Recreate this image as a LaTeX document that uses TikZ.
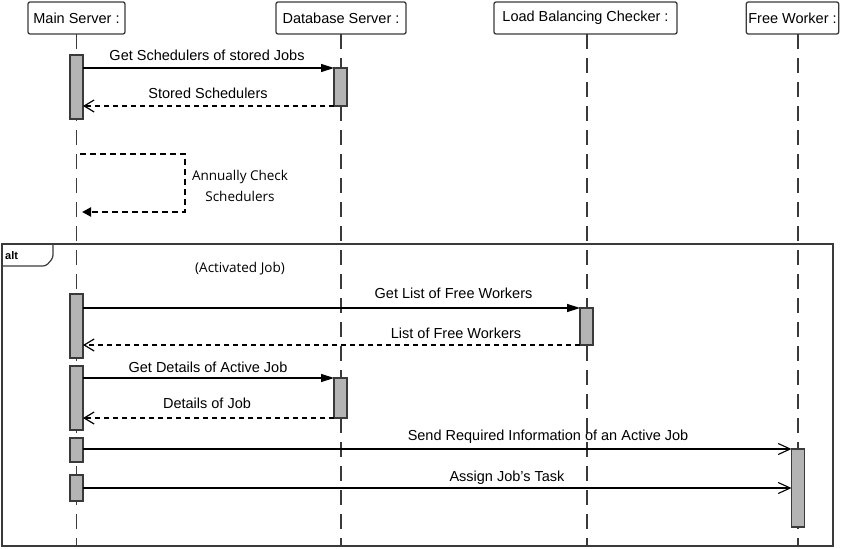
\documentclass[tikz,border=0pt]{standalone}
\usepackage{fontspec}
\setmainfont{Liberation Sans}
\newfontfamily\notefont{Open Sans}
\usepackage{tikz}
\usetikzlibrary{arrows.meta, calc}
\definecolor{boxgray}{HTML}{3A3A3A}
\definecolor{actfill}{HTML}{B4B4B4}

\begin{document}
\begin{tikzpicture}[x=1pt, y=-1pt,
                head/.style={draw=boxgray, line width=1.3pt, rounded corners=2pt,
                  minimum height=32pt, inner sep=2pt, outer sep=0pt, fill=white,
                  font=\fontsize{14.5}{16}\selectfont},
                lifeline/.style={draw=boxgray, line width=1.8pt, dash pattern=on 15pt off 9pt},
                act/.style={draw=boxgray, line width=1.2pt, fill=actfill,
                  minimum width=13pt, inner sep=0pt, outer sep=0pt},
                sync/.style={draw=black, line width=1.4pt, -{Triangle[length=13pt,width=8pt]}},
                async/.style={draw=black, line width=1.1pt, -{Straight Barb[length=12pt,width=11pt]}},
                reply/.style={draw=black, line width=1.2pt, dash pattern=on 5pt off 4pt,
                  -{Straight Barb[length=10pt,width=12pt]}},
                selfmsg/.style={draw=black, line width=2pt, dash pattern=on 6pt off 4pt,
                  -{Triangle[length=9pt,width=9pt]}},
                msg/.style={anchor=base, inner sep=0pt, font=\fontsize{14.5}{16}\selectfont},
                note/.style={inner sep=0pt, align=center, font=\notefont\fontsize{13.5}{21}\selectfont},
                frame/.style={draw=boxgray, line width=1.8pt},
              ]
  \useasboundingbox (0,0) rectangle (850,548);
  \coordinate (bot) at (0,546);

  % lifeline heads
  \node [head, minimum width=97pt] (ms) at (76.5,18) {Main Server :};
  \node [head, minimum width=130pt] (ds) at (341,18) {Database Server :};
  \node [head, minimum width=183pt] (lb) at (585.5,18) {Load Balancing Checker :};
  \node [head, minimum width=91pt] (fw) at (792.5,18) {Free Worker :};

  \draw [lifeline] (ms.south) -- (ms.south |- bot);
  \draw [lifeline] (ds.south) -- (ds.south |- bot);
  \draw [lifeline] ([xshift=1.5pt]lb.south) -- ([xshift=1.5pt]lb.south |- bot);
  \draw [lifeline] ([xshift=5.5pt]fw.south) -- ([xshift=5.5pt]fw.south |- bot);

  % alt frame
  \coordinate (f1) at (2,244);
  \coordinate (f2) at (833,546);
  \draw [frame] (f1) rectangle (f2);
  \draw [frame, line width=1.2pt, rounded corners=3pt] (f1 |- 0,266) -- (46,266) -- (53,258) -- (53 ,244);
  \node [anchor=base west, inner sep=0pt, font=\bfseries\fontsize{11}{12}\selectfont] (alt) at (5,259) {alt};

  % activations
  \node [act, minimum height=64pt] (ma1) at (76.5,87) {};
  \node [act, minimum height=38pt] (db1) at (340.5,87) {};
  \node [act, minimum height=64pt] (ma2) at (76.5,326) {};
  \node [act, minimum height=37pt] (lb1) at (586.5,326.5) {};
  \node [act, minimum height=64pt] (ma3) at (76.5,398) {};
  \node [act, minimum height=40pt] (db2) at (340.5,398) {};
  \node [act, minimum height=24pt] (ma4) at (76.5,450) {};
  \node [act, minimum height=78pt] (fw1) at (798,488) {};
  \node [act, minimum height=26pt] (ma5) at (76.5,488) {};

  % messages
  \draw [sync] (ma1.east |- db1.north) -- (db1.north west);
  \node [msg] (m1) at (207,61) {Get Schedulers of stored Jobs};
  \draw [reply] (db1.south west) -- (ma1.east |- db1.south);
  \node [msg] (m2) at (208,99) {Stored Schedulers};

  \coordinate (s1) at (80,154);
  \coordinate (s2) at (82,212);
  \draw [selfmsg] (s1) -| (185,212) -- (s2);
  \node [note] (m3) at (240,186) {Annually Check\\Schedulers};

  \node [note] (guard) at (240,269) {(Activated Job)};

  \draw [sync] (ma2.east |- lb1.north) -- (lb1.north west);
  \node [msg] (m4) at (453.5,298) {Get List of Free Workers};
  \draw [reply] (lb1.south west) -- (ma2.east |- lb1.south);
  \node [msg] (m5) at (456,338) {List of Free Workers};

  \draw [sync] (ma3.east |- db2.north) -- (db2.north west);
  \node [msg] (m6) at (208,372) {Get Details of Active Job};
  \draw [reply] (db2.south west) -- (ma3.east |- db2.south);
  \node [msg] (m7) at (207,408) {Details of Job};

  \draw [async] (ma4.east |- fw1.north) -- (fw1.north west);
  \node [msg] (m8) at (548,440) {Send Required Information of an Active Job};
  \draw [async] (ma5.east) -- (fw1.west |- ma5.east);
  \node [msg] (m9) at (507,481) {Assign Job's Task};
\end{tikzpicture}
\end{document}
